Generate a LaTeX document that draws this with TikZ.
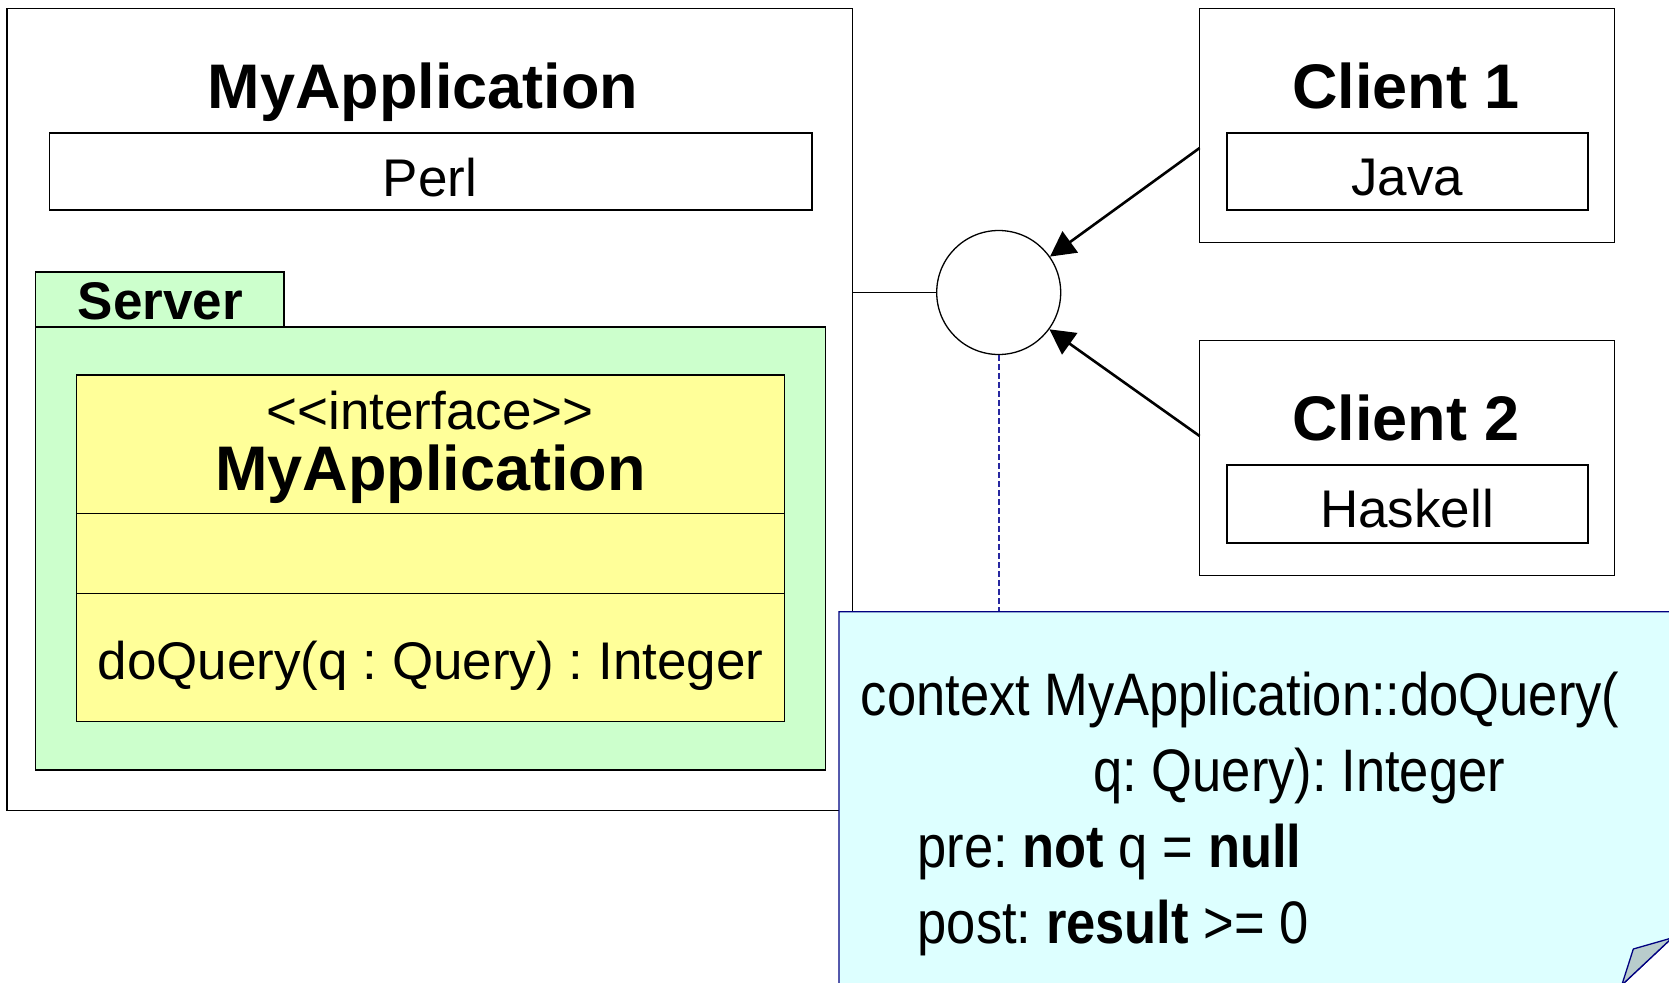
\documentclass[tikz,border=0pt]{standalone}
\usepackage{fontspec}
\setmainfont{Liberation Sans}
\newfontfamily\notefont[FakeStretch=0.875]{Liberation Sans}
\usetikzlibrary{arrows.meta}
\definecolor{srvgreen}{RGB}{204,255,204}
\definecolor{ifyellow}{RGB}{255,255,153}
\definecolor{notecyan}{RGB}{221,255,255}
\definecolor{notenavy}{RGB}{0,0,128}
\definecolor{foldgray}{RGB}{184,204,204}
\definecolor{linkblue}{RGB}{40,40,160}
\begin{document}
\frenchspacing
\begin{tikzpicture}[x=1pt,y=-1pt,
  box/.style={draw=black, line width=1.3pt, inner sep=0pt, outer sep=0pt, anchor=north west},
  bigtxt/.style={font=\fontsize{63}{70}\selectfont\bfseries, anchor=base, inner sep=0pt},
  txt/.style={font=\fontsize{53}{60}\selectfont, anchor=base, inner sep=0pt},
  notetxt/.style={font=\notefont\fontsize{60}{70}\selectfont, anchor=base west, inner sep=0pt},
  arr/.style={line width=2.6pt, -{Triangle[length=25pt,width=26pt]}}]
\useasboundingbox (0,0) rectangle (1669,982);
\clip (0,0) rectangle (1669,982);
% application box
\node[box, fill=white, minimum width=845.5pt, minimum height=802pt] (app) at (7,8.5) {};
\node[bigtxt] (apptitle) at (423,108) {MyApplication};
\node[box, minimum width=762.6pt, minimum height=77pt] (perl) at (49.4,133) {};
\node[txt] (perltxt) at (430,196) {Perl};
% server package
\node[box, fill=srvgreen, minimum width=248.3pt, minimum height=55pt] (srvtab) at (35.7,272) {};
\node[box, fill=srvgreen, minimum width=789.9pt, minimum height=443pt] (srv) at (35.7,327) {};
\node[txt, font=\fontsize{53}{60}\selectfont\bfseries] (srvtxt) at (160.5,319) {Server};
% interface class
\node[box, fill=ifyellow, minimum width=707.6pt, minimum height=138.3pt] (ifname) at (76.8,375) {};
\node[box, fill=ifyellow, minimum width=707.6pt, minimum height=80pt] (ifattr) at (76.8,513.3) {};
\node[box, fill=ifyellow, minimum width=707.6pt, minimum height=128.4pt] (ifops) at (76.8,593.3) {};
\node[txt] (stereo) at (430,429) {<{}<interface>{}>};
\node[bigtxt] (ifttl) at (430.5,490) {MyApplication};
\node[txt] (optxt) at (430.5,679) {doQuery(q : Query) : Integer};
% clients
\node[box, fill=white, minimum width=415.1pt, minimum height=234.2pt] (c1) at (1199.6,8.5) {};
\node[bigtxt] (c1txt) at (1406,108.6) {Client 1};
\node[box, minimum width=361pt, minimum height=77pt] (java) at (1227,133) {};
\node[txt] (javatxt) at (1407,195) {Java};
\node[box, fill=white, minimum width=415.1pt, minimum height=235.2pt] (c2) at (1199.6,340.6) {};
\node[bigtxt] (c2txt) at (1406,440.7) {Client 2};
\node[box, minimum width=361pt, minimum height=78pt] (hask) at (1227,465) {};
\node[txt] (hasktxt) at (1407,527) {Haskell};
% interface circle
\node[circle, draw=black, fill=white, line width=1.3pt, minimum size=124pt, inner sep=0pt] (circ) at (998.7,292.5) {};
\draw[line width=1.3pt] (app.east |- circ.west) -- (circ.west);
\draw[arr] ([yshift=-22.4pt]c1.west) -- (circ.35.6);
\draw[arr] ([yshift=22.2pt]c2.west) -- (circ.-36);
% note
\node[inner sep=0pt, outer sep=0pt, anchor=north west, minimum width=833pt, minimum height=373pt] (note) at (839,611.7) {};
\draw[linkblue, line width=1.8pt, dash pattern=on 5.5pt off 3.5pt] (circ.south) -- (circ.south |- note.north);
\filldraw[fill=notecyan, draw=notenavy, line width=1.3pt] (note.north west) -- (1672,611.7) -- (1672,937.9) -- (1621.8,985) -- (839,985) -- cycle;
\filldraw[fill=foldgray, draw=notenavy, line width=1.3pt, line join=round] (1621.8,985) -- (1633.3,949) -- (1672,937.9) -- cycle;
\node[notetxt] (n1) at (860.6,715) {context MyApplication::doQuery(};
\node[notetxt] (n2) at (1093.4,791.7) {q: Query): Integer};
\node[notetxt] (n3) at (917.5,867) {pre: \textbf{not} q = \textbf{null}};
\node[notetxt] (n4) at (917.5,943) {post: \textbf{result} >= 0};
\end{tikzpicture}
\end{document}
